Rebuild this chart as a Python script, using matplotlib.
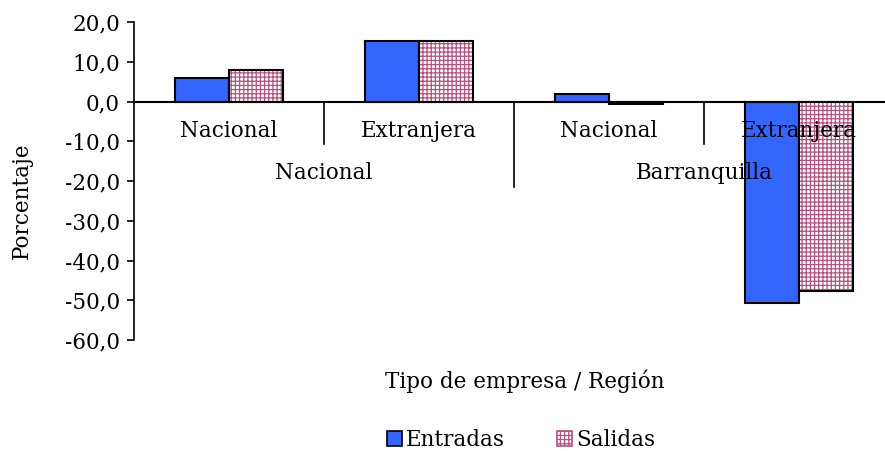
import matplotlib
matplotlib.use("Agg")
import matplotlib.pyplot as plt
from matplotlib.patches import Patch
import numpy as np

plt.rcParams['font.family'] = ['DejaVu Serif']
plt.rcParams['hatch.linewidth'] = 0.9

tipos = ["Nacional", "Extranjera", "Nacional", "Extranjera"]
regiones = ["Nacional", "Barranquilla"]
entradas = [5.8, 15.3, 1.8, -50.6]
salidas = [7.8, 15.3, -0.6, -47.7]
yticks = [20, 10, 0, -10, -20, -30, -40, -50, -60]
ytick_labels = ["20,0", "10,0", "0,0", "-10,0", "-20,0", "-30,0", "-40,0", "-50,0", "-60,0"]

blue = "#3366FF"
pink = "#B8507F"
fs = 15.5

fig = plt.figure(figsize=(8.85, 4.51), dpi=100)
ax = fig.add_axes([134/885, 1-340/451, (894-134)/885, 318/451])

x = np.arange(len(tipos))
w = 0.285
ax.bar(x - w/2, entradas, w, color=blue, edgecolor="black", linewidth=1.5, zorder=3)
ax.bar(x + w/2, salidas, w, color="white", edgecolor=pink, hatch="++++", linewidth=0, zorder=3)
ax.bar(x + w/2, salidas, w, color="none", edgecolor="black", linewidth=1.5, zorder=4)

ax.set_xlim(-0.5, 3.5)
ax.set_ylim(-60, 20)
ax.axhline(0, color="black", linewidth=1.5, zorder=5)

for s in ["top", "right", "bottom"]:
    ax.spines[s].set_visible(False)
ax.spines["left"].set_linewidth(1.2)
ax.set_xticks([])
ax.set_yticks(yticks)
ax.set_yticklabels(ytick_labels, fontsize=fs)
ax.tick_params(axis="y", direction="out", length=5, width=1.2, pad=5)

# category labels
for i, t in enumerate(tipos):
    ax.text(i, -7.3, t, ha="center", va="center", fontsize=fs, zorder=6)
for j, r in enumerate(regiones):
    ax.text(2*j + 0.5, -18.1, r, ha="center", va="center", fontsize=fs, zorder=6)
# separators
for xs in [0.5, 2.5]:
    ax.plot([xs, xs], [0, -10.6], color="black", linewidth=1.2, clip_on=False, zorder=2)
for xs in [1.5, 3.5]:
    ax.plot([xs, xs], [0, -21.6], color="black", linewidth=1.2, clip_on=False, zorder=2)

fig.text(525/885, 1-381/451, "Tipo de empresa / Región", ha="center", va="center", fontsize=fs)
fig.text(22/885, 1-201/451, "Porcentaje", ha="center", va="center", rotation=90, fontsize=fs)

handles = [Patch(facecolor=blue, edgecolor="black", linewidth=1.2),
           Patch(facecolor="white", edgecolor=pink, hatch="++++", linewidth=1.2)]
fig.legend(handles, ["Entradas", "Salidas"], loc="center", bbox_to_anchor=(521/885, 1-440/451),
           ncol=2, frameon=False, fontsize=fs, handlelength=0.7, handleheight=0.7,
           handletextpad=0.2, columnspacing=2.4)

fig.savefig("out.png", dpi=100)
